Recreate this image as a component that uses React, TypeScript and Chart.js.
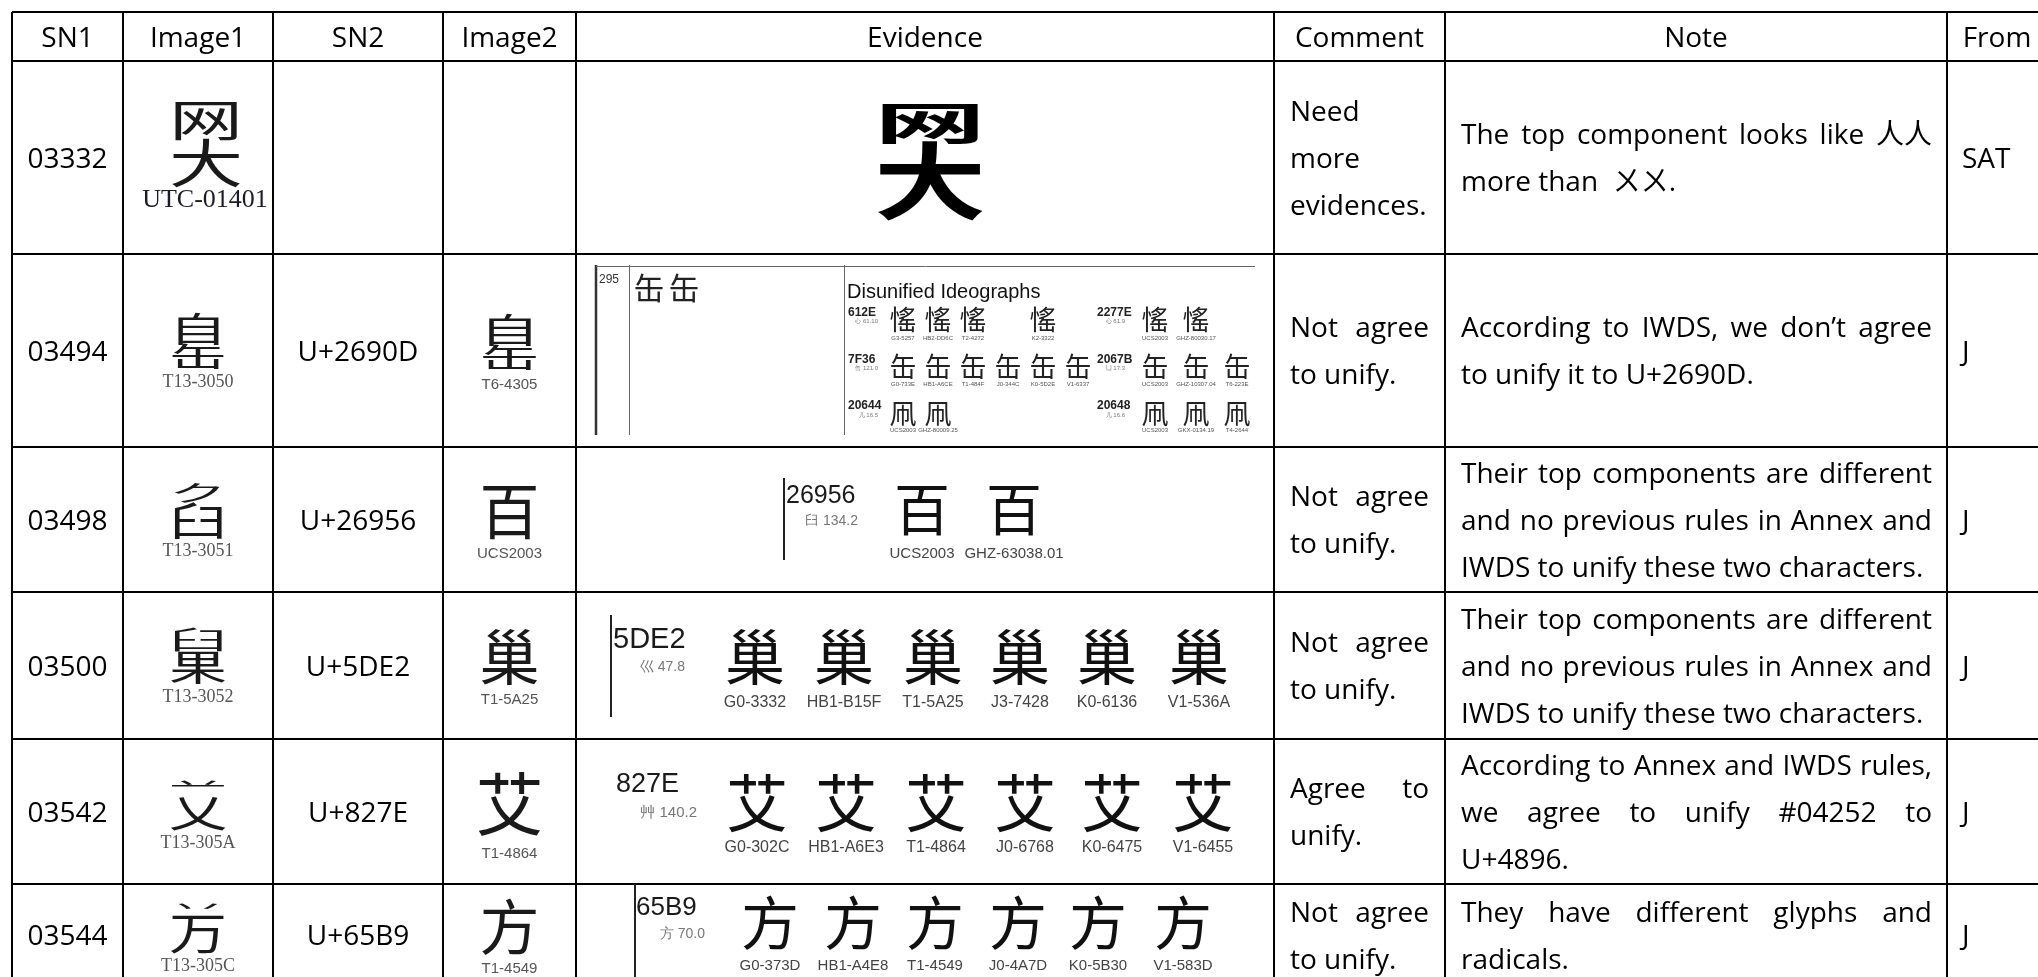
import React, { useEffect, useRef } from 'react';
import { Chart, registerables } from 'chart.js';

Chart.register(...registerables);

// ---------------- data ----------------
const headers = ['SN1', 'Image1', 'SN2', 'Image2', 'Evidence', 'Comment', 'Note', 'From'];
const sn1 = ['03332', '03494', '03498', '03500', '03542', '03544'];
// "a|b" = glyph built from a top and a bottom component
const image1Glyphs = ['网|大', '自|缶', 'ク|臼', '臼|果', '䒑|乂', '丷|万'];
const image1Sources = ['UTC-01401', 'T13-3050', 'T13-3051', 'T13-3052', 'T13-305A', 'T13-305C'];
const sn2 = ['', 'U+2690D', 'U+26956', 'U+5DE2', 'U+827E', 'U+65B9'];
const image2Glyphs = ['', '自|缶', '百', '巢', '艾', '方'];
const image2Sources = ['', 'T6-4305', 'UCS2003', 'T1-5A25', 'T1-4864', 'T1-4549'];

const evidenceCodes = ['', '295', '26956', '5DE2', '827E', '65B9'];
const evidenceRadicals = ['', '', '臼 134.2', '巛 47.8', '艸 140.2', '方 70.0'];
const evidenceGlyphs = ['网|大', '缶 缶', '百', '巢', '艾', '方'];
const evidenceSources = [
  [],
  [],
  ['UCS2003', 'GHZ-63038.01'],
  ['G0-3332', 'HB1-B15F', 'T1-5A25', 'J3-7428', 'K0-6136', 'V1-536A'],
  ['G0-302C', 'HB1-A6E3', 'T1-4864', 'J0-6768', 'K0-6475', 'V1-6455'],
  ['G0-373D', 'HB1-A4E8', 'T1-4549', 'J0-4A7D', 'K0-5B30', 'V1-583D'],
];

// code-chart excerpt shown as evidence for 03494
const disunifiedTitle = 'Disunified Ideographs';
const disunifiedCodes = ['612E', '2277E', '7F36', '2067B', '20644', '20648'];
const disunifiedRadicals = ['心 61.10', '心 61.9', '缶 121.0', '凵 17.3', '几 16.5', '几 16.6'];
const disunifiedGlyphs = ['愮', '愮', '缶', '缶', '凧', '凧'];
const disunifiedSources = [
  ['G3-5257', 'HB2-DD6C', 'T2-4272', '', 'K2-3322'],
  ['UCS2003', 'GHZ-80030.17'],
  ['G0-733E', 'HB1-A6CE', 'T1-484F', 'J0-344C', 'K0-5D2E', 'V1-6337'],
  ['UCS2003', 'GHZ-10307.04', 'T6-223E'],
  ['UCS2003', 'GHZ-80009.25'],
  ['UCS2003', 'GKX-0134.19', 'T4-2644'],
];

const comments = [
  ['Need', 'more', 'evidences.'],
  ['Not agree', 'to unify.'],
  ['Not agree', 'to unify.'],
  ['Not agree', 'to unify.'],
  ['Agree to', 'unify.'],
  ['Not agree', 'to unify.'],
];
const notes = [
  ['The top component looks like  人人', 'more than  ㄨㄨ.'],
  ['According to IWDS, we don’t agree', 'to unify it to U+2690D.'],
  ['Their top components are different', 'and no previous rules in Annex and', 'IWDS to unify these two characters.'],
  ['Their top components are different', 'and no previous rules in Annex and', 'IWDS to unify these two characters.'],
  ['According to Annex and IWDS rules,', 'we agree to unify #04252 to', 'U+4896.'],
  ['They have different glyphs and', 'radicals.'],
];
const fromValues = ['SAT', 'J', 'J', 'J', 'J', 'J'];

// ---------------- layout (not data) ----------------
const ORIGIN = 12;
const colWidths = [111, 150, 170, 133, 698, 171, 502, 100];
const rowHeights = [49, 193, 193, 145, 147, 145, 102];
const cumulate = (a: number[]) => a.reduce((acc: number[], w) => { acc.push(acc[acc.length - 1] + w); return acc; }, [0]);
const colEdges = cumulate(colWidths);
const rowEdges = cumulate(rowHeights);
const W = 2038;
const H = 977;

const SANS = '"Open Sans", "Noto Sans CJK TC", "Noto Sans", sans-serif';
const CJK = '"Noto Sans CJK TC", "Noto Sans CJK SC", "Noto Sans CJK JP", sans-serif';
const NARROW = '"Liberation Sans Narrow", "Liberation Sans", Arial, sans-serif';
const ARIAL = '"Liberation Sans", Arial, sans-serif';
const SERIF = '"Liberation Serif", "Times New Roman", serif';

const BODY = 28;
const PITCH = 47;

const compositeTop: Record<string, number> = {
  '网|大': 0.42, '自|缶': 0.55, 'ク|臼': 0.36, '臼|果': 0.4, '䒑|乂': 0.36, '丷|万': 0.28,
};

// evidence layouts per row (offsets from the cell's left / top edge)
const evidenceLayout: any[] = [
  { kind: 'big', dx: 5, dy: 3, fs: 112, h: 116, top: 0.35 },
  { kind: 'chart' },
  { kind: 'list', line: [208, 31, 113], codeX: 210, codeBase: 56, codeSize: 25, radRight: 282, radBase: 78, radSize: 14, xs: [346, 438], gy: 62, gs: 56, labBase: 111, labSize: 15 },
  { kind: 'list', line: [35, 23, 125], codeX: 37, codeBase: 56, codeSize: 29, radRight: 109, radBase: 79, radSize: 14, xs: [179, 268, 357, 444, 531, 623], gy: 65, gs: 60, labBase: 115, labSize: 16 },
  { kind: 'list', line: null, codeX: 40, codeBase: 53, codeSize: 27, radRight: 121, radBase: 78, radSize: 15, xs: [181, 270, 360, 449, 536, 627], gy: 64, gs: 62, labBase: 113, labSize: 16 },
  { kind: 'list', line: [59, 0, 110], codeX: 60, codeBase: 31, codeSize: 26, radRight: 129, radBase: 54, radSize: 14, xs: [194, 277, 359, 442, 522, 607], gy: 39, gs: 58, labBase: 86, labSize: 15 },
];

// ---------------- drawing helpers ----------------
function drawChar(ctx: CanvasRenderingContext2D, ch: string, cx: number, cy: number, size: number, color: string, weight = 400) {
  ctx.save();
  ctx.fillStyle = color;
  ctx.font = `${weight} ${size}px ${CJK}`;
  ctx.textAlign = 'center';
  ctx.textBaseline = 'alphabetic';
  ctx.fillText(ch, cx, cy + 0.38 * size);
  ctx.restore();
}

function drawGlyph(ctx: CanvasRenderingContext2D, g: string, cx: number, cy: number, fs: number, h: number, color: string, weight = 400, topFrac?: number) {
  const parts = g.split('|');
  if (parts.length === 1) {
    ctx.save();
    ctx.translate(cx, cy);
    ctx.scale(1, h / (0.92 * fs));
    drawChar(ctx, parts[0], 0, 0, fs, color, weight);
    ctx.restore();
    return;
  }
  const tf = topFrac ?? compositeTop[g] ?? 0.45;
  const hs = [h * tf, h * (1 - tf)];
  let y = cy - h / 2;
  parts.forEach((p, i) => {
    const ph = hs[i];
    ctx.save();
    ctx.translate(cx, y + ph / 2);
    ctx.scale(1, ph / (0.9 * fs));
    drawChar(ctx, p, 0, 0, fs, color, weight);
    ctx.restore();
    y += ph;
  });
}

function text(ctx: CanvasRenderingContext2D, s: string, x: number, y: number, font: string, color: string, align: CanvasTextAlign = 'left') {
  ctx.save();
  ctx.font = font;
  ctx.fillStyle = color;
  ctx.textAlign = align;
  ctx.textBaseline = 'alphabetic';
  ctx.fillText(s, x, y);
  ctx.restore();
}

function paragraph(ctx: CanvasRenderingContext2D, lines: string[], x0: number, x1: number, cy: number, justify: boolean, align: 'left' | 'center' = 'left') {
  ctx.save();
  ctx.font = `${BODY}px ${SANS}`;
  ctx.fillStyle = '#000';
  ctx.textBaseline = 'alphabetic';
  const n = lines.length;
  const avail = x1 - x0;
  lines.forEach((line, i) => {
    const base = cy + (i - (n - 1) / 2) * PITCH + 0.36 * BODY;
    const words = line.split(/\s+/).filter((w) => w.length);
    const last = i === n - 1;
    if (justify && !last && words.length > 1) {
      const ww = words.map((w) => ctx.measureText(w).width);
      const sum = ww.reduce((a, b) => a + b, 0);
      const sp = ctx.measureText(' ').width;
      let gap = (avail - sum) / (words.length - 1);
      let sx = 1;
      if (gap < sp * 0.75) {
        gap = sp * 0.75;
        sx = avail / (sum + gap * (words.length - 1));
      }
      ctx.save();
      ctx.translate(x0, base);
      ctx.scale(sx, 1);
      ctx.textAlign = 'left';
      let x = 0;
      words.forEach((w, k) => { ctx.fillText(w, x, 0); x += ww[k] + gap; });
      ctx.restore();
    } else {
      const nat = ctx.measureText(line).width;
      const sx = nat > avail ? avail / nat : 1;
      ctx.save();
      ctx.translate(align === 'center' ? (x0 + x1) / 2 : x0, base);
      ctx.scale(sx, 1);
      ctx.textAlign = align;
      ctx.fillText(line, 0, 0);
      ctx.restore();
    }
  });
  ctx.restore();
}

function cellBox(chart: any, r: number, c: number) {
  const xs = chart.scales.x;
  const ys = chart.scales.y;
  const l = xs.getPixelForValue(colEdges[c]);
  const rr = xs.getPixelForValue(colEdges[c + 1]);
  const t = ys.getPixelForValue(rowEdges[r]);
  const b = ys.getPixelForValue(rowEdges[r + 1]);
  return { l, r: rr, t, b, cx: (l + rr) / 2, cy: (t + b) / 2 };
}

function drawCodeChart(ctx: CanvasRenderingContext2D, L: number, T: number) {
  ctx.save();
  // frame lines
  ctx.strokeStyle = '#333';
  ctx.lineWidth = 2.5;
  ctx.beginPath(); ctx.moveTo(L + 20, T + 11); ctx.lineTo(L + 20, T + 181); ctx.stroke();
  ctx.strokeStyle = '#666';
  ctx.lineWidth = 1;
  ctx.beginPath(); ctx.moveTo(L + 20, T + 12.5); ctx.lineTo(L + 679, T + 12.5); ctx.stroke();
  ctx.beginPath(); ctx.moveTo(L + 53.5, T + 11); ctx.lineTo(L + 53.5, T + 181); ctx.stroke();
  ctx.beginPath(); ctx.moveTo(L + 268.5, T + 11); ctx.lineTo(L + 268.5, T + 181); ctx.stroke();
  ctx.restore();

  text(ctx, evidenceCodes[1], L + 23, T + 29, `12px ${NARROW}`, '#333');
  const pair = evidenceGlyphs[1].split(' ');
  drawChar(ctx, pair[0], L + 73, T + 34, 31, '#222');
  drawChar(ctx, pair[1], L + 108, T + 34, 31, '#222');
  text(ctx, disunifiedTitle, L + 271, T + 44, `20px ${ARIAL}`, '#111');

  const rowsY = [
    { code: 62, rad: 69, gy: 66, lab: 86 },
    { code: 109, rad: 116, gy: 113, lab: 132 },
    { code: 155, rad: 163, gy: 160, lab: 178 },
  ];
  const blocks = [
    { codeX: 272, radRight: 302, slot0: 327, step: 35 },
    { codeX: 521, radRight: 549, slot0: 579, step: 41 },
  ];
  disunifiedCodes.forEach((code, i) => {
    const ry = rowsY[Math.floor(i / 2)];
    const bk = blocks[i % 2];
    text(ctx, code, L + bk.codeX, T + ry.code, `bold 12px ${ARIAL}`, '#222');
    text(ctx, disunifiedRadicals[i], L + bk.radRight, T + ry.rad, `6px ${ARIAL}`, '#777', 'right');
    disunifiedSources[i].forEach((src, k) => {
      if (!src) return;
      const x = L + bk.slot0 + k * bk.step;
      drawChar(ctx, disunifiedGlyphs[i], x, T + ry.gy, 27, '#222');
      text(ctx, src, x, T + ry.lab, `6px ${NARROW}`, '#555', 'center');
    });
  });
}

const tablePlugin = {
  id: 'tableCells',
  afterDraw(chart: any) {
    const ctx: CanvasRenderingContext2D = chart.ctx;
    // header row
    headers.forEach((h, c) => {
      const b = cellBox(chart, 0, c);
      text(ctx, h, b.cx, b.cy + 0.36 * BODY, `${BODY}px ${SANS}`, '#000', 'center');
    });
    sn1.forEach((_, i) => {
      const r = i + 1;
      // SN1
      let b = cellBox(chart, r, 0);
      text(ctx, sn1[i], b.cx, b.cy + 0.36 * BODY, `${BODY}px ${SANS}`, '#000', 'center');
      // Image1
      b = cellBox(chart, r, 1);
      if (i === 0) {
        drawGlyph(ctx, image1Glyphs[i], b.cx + 8, b.cy - 14, 74, 87, '#1a1a1a', 400, 0.46);
        text(ctx, image1Sources[i], b.cx + 7, b.cy + 49, `26px ${SERIF}`, '#1c1c28', 'center');
      } else {
        drawGlyph(ctx, image1Glyphs[i], b.cx, b.cy - 9, 58, 55, '#1a1a1a', 400);
        text(ctx, image1Sources[i], b.cx, b.cy + 36, `18px ${SERIF}`, '#555', 'center');
      }
      // SN2
      b = cellBox(chart, r, 2);
      if (sn2[i]) text(ctx, sn2[i], b.cx, b.cy + 0.36 * BODY, `${BODY}px ${SANS}`, '#000', 'center');
      // Image2
      b = cellBox(chart, r, 3);
      if (image2Glyphs[i]) {
        const big = image2Glyphs[i] === '艾';
        const fs = big ? 68 : 60;
        const hh = big ? 63 : 55;
        drawGlyph(ctx, image2Glyphs[i], b.cx, b.cy - 8, fs, hh, '#1a1a1a', 400);
        text(ctx, image2Sources[i], b.cx, b.cy + (big ? 46 : 38), `15px ${NARROW}`, '#555', 'center');
      }
      // Evidence
      b = cellBox(chart, r, 4);
      const lay = evidenceLayout[i];
      if (lay.kind === 'big') {
        drawGlyph(ctx, evidenceGlyphs[i], b.cx + lay.dx, b.cy + lay.dy, lay.fs, lay.h, '#000', 700, lay.top);
      } else if (lay.kind === 'chart') {
        drawCodeChart(ctx, b.l, b.t);
      } else {
        const L = b.l;
        const T = b.t;
        if (lay.line) {
          ctx.save();
          ctx.strokeStyle = '#222';
          ctx.lineWidth = 2;
          ctx.beginPath();
          ctx.moveTo(L + lay.line[0], T + lay.line[1]);
          ctx.lineTo(L + lay.line[0], T + lay.line[2]);
          ctx.stroke();
          ctx.restore();
        }
        text(ctx, evidenceCodes[i], L + lay.codeX, T + lay.codeBase, `${lay.codeSize}px ${ARIAL}`, '#1a1a1a');
        text(ctx, evidenceRadicals[i], L + lay.radRight, T + lay.radBase, `${lay.radSize}px ${NARROW}`, '#777', 'right');
        evidenceSources[i].forEach((src, k) => {
          const x = L + lay.xs[k];
          drawGlyph(ctx, evidenceGlyphs[i], x, T + lay.gy, lay.gs, lay.gs * 0.92, '#111', 400);
          text(ctx, src, x, T + lay.labBase, `${lay.labSize}px ${NARROW}`, '#444', 'center');
        });
      }
      // Comment
      b = cellBox(chart, r, 5);
      paragraph(ctx, comments[i], b.l + 16, b.r - 16, b.cy, true);
      // Note
      b = cellBox(chart, r, 6);
      paragraph(ctx, notes[i], b.l + 16, b.r - 15, b.cy, true);
      // From
      b = cellBox(chart, r, 7);
      text(ctx, fromValues[i], b.l + 15, b.cy + 0.36 * BODY, `${BODY}px ${SANS}`, '#000');
    });
  },
};

export default function App() {
  const ref = useRef<HTMLCanvasElement | null>(null);
  useEffect(() => {
    document.body.style.margin = '0';
    document.body.style.overflow = 'hidden';
    const canvas = ref.current;
    if (!canvas) return;
    const xMax = W - ORIGIN;
    const yMax = H - ORIGIN;
    const gridOpts = { color: '#000', lineWidth: 2, drawTicks: false, tickLength: 0 };
    const chart = new Chart(canvas, {
      type: 'scatter',
      data: { datasets: [{ label: 'cells', data: [], pointRadius: 0 }] },
      options: {
        animation: false,
        responsive: false,
        devicePixelRatio: 1,
        events: [],
        layout: { padding: { left: ORIGIN, top: ORIGIN, right: 0, bottom: 0 } },
        plugins: { legend: { display: false }, tooltip: { enabled: false } },
        scales: {
          x: {
            type: 'linear', min: 0, max: xMax,
            ticks: { display: false, autoSkip: false },
            grid: gridOpts as any,
            border: { display: false },
            afterBuildTicks: (s: any) => { s.ticks = colEdges.filter((v) => v <= xMax).map((v) => ({ value: v })); },
          },
          y: {
            type: 'linear', min: 0, max: yMax, reverse: true,
            ticks: { display: false, autoSkip: false },
            grid: gridOpts as any,
            border: { display: false },
            afterBuildTicks: (s: any) => { s.ticks = rowEdges.filter((v) => v <= yMax).map((v) => ({ value: v })); },
          },
        },
      } as any,
      plugins: [tablePlugin],
    });
    let alive = true;
    if ((document as any).fonts && (document as any).fonts.ready) {
      (document as any).fonts.ready.then(() => { if (alive) chart.update(); });
    }
    return () => { alive = false; chart.destroy(); };
  }, []);
  return (
    <div style={{ width: W, height: H, background: '#fff' }}>
      <canvas ref={ref} width={W} height={H} style={{ display: 'block' }} />
    </div>
  );
}
